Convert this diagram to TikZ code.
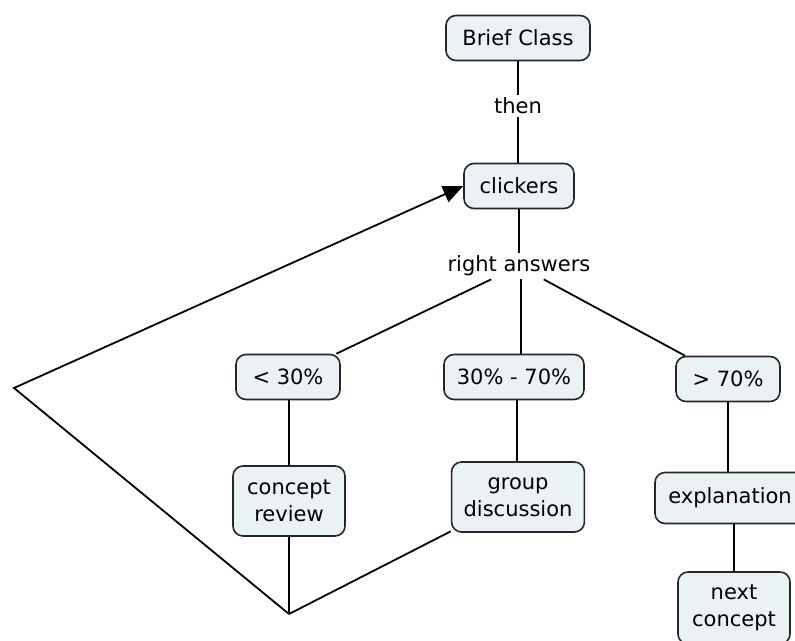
\documentclass[tikz,border=0pt]{standalone}
\usepackage{fontspec}
\setmainfont{DejaVu Sans}
\usepackage{tikz}
\usetikzlibrary{arrows.meta}
\definecolor{caixa}{HTML}{EAF2F5}

\begin{document}
\begin{tikzpicture}[
	x=1pt, y=-1pt,
	box/.style={draw=black!85, fill=caixa, line width=1.6pt, rectangle, rounded corners=10pt, minimum height=45pt, inner xsep=12pt, inner ysep=9pt, align=center, font=\fontsize{21}{27}\selectfont},
	rotulo/.style={inner sep=3pt, font=\fontsize{21}{27}\selectfont},
	liga/.style={line width=1.8pt},
	seta/.style={line width=1.8pt, -{Triangle[length=20pt, width=17pt]}}
	]
	\useasboundingbox (0,0) rectangle (795,640);
	\node[box, minimum width=144pt] (brief) at (518,38) {Brief Class};
	\node[rotulo] (then) at (518,106) {then};
	\node[box, minimum width=110pt] (clickers) at (519,186) {clickers};
	\node[rotulo] (answers) at (519,266) {right answers};

	\node[box, minimum width=104pt] (low) at (288,377) {< 30\%};
	\node[box, minimum width=140pt] (mid) at (514,377) {30\% - 70\%};
	\node[box, minimum width=104pt] (high) at (728,379) {> 70\%};

	\node[box, minimum width=112pt, minimum height=70pt] (review) at (289,501) {concept\\review};
	\node[box, minimum width=127pt, minimum height=70pt] (discussion) at (518,497) {group\\discussion};
	\node[box, minimum width=150pt, minimum height=51pt] (explanation) at (730,498) {explanation};
	\node[box, minimum width=112pt, minimum height=72pt] (next) at (734,608) {next\\concept};

	\coordinate (juncao) at (289,614);
	\coordinate (volta) at (14,388);

	\draw[liga] (brief.south) -- (then);
	\draw[liga] (then) -- (then |- clickers.north);
	\draw[liga] (answers |- clickers.south) -- (answers);
	\draw[liga] (answers) -- (low);
	\draw[liga] ([xshift=2pt]answers.south) -- ([xshift=2pt]answers.south |- mid.north);
	\draw[liga] (answers) -- (high);
	\draw[liga] (low.south -| review) -- (review);
	\draw[liga] ([xshift=3pt]mid.south) -- ([xshift=3pt]mid.south |- discussion.north);
	\draw[liga] (high.south) -- (high.south |- explanation.north);
	\draw[liga] (next.north |- explanation.south) -- (next.north);
	\draw[liga] (review) -- (juncao);
	\draw[liga] (discussion) -- (juncao);
	\draw[seta] (juncao) -- (volta) -- (clickers.west);
\end{tikzpicture}
\end{document}
